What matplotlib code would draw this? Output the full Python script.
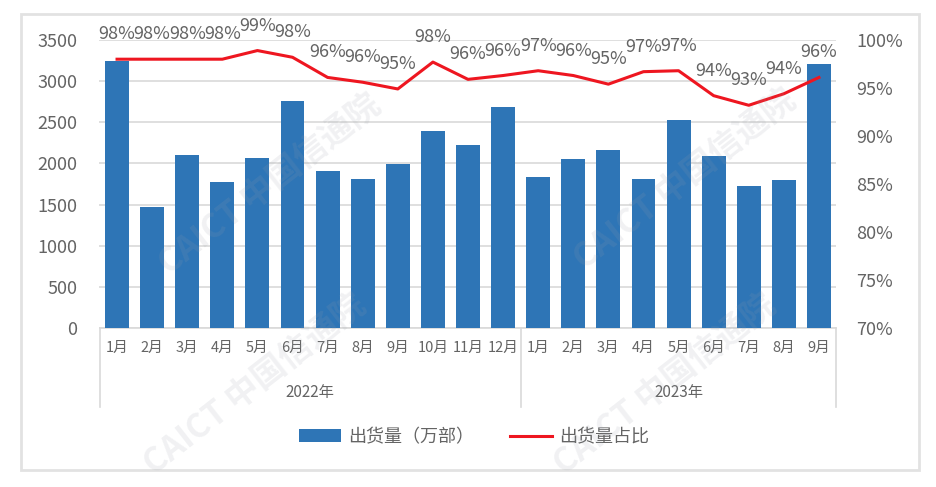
import matplotlib.pyplot as plt
from matplotlib.lines import Line2D
from matplotlib.patches import Rectangle
from matplotlib.ticker import FuncFormatter

plt.rcParams['font.family'] = ['Noto Sans CJK SC', 'DejaVu Sans']

# data
months = ['1月', '2月', '3月', '4月', '5月', '6月', '7月', '8月', '9月', '10月', '11月', '12月',
          '1月', '2月', '3月', '4月', '5月', '6月', '7月', '8月', '9月']
years = ['2022年', '2023年']
year_counts = [12, 9]
shipments = [3244, 1470, 2102, 1774, 2066, 2758, 1908, 1810, 1993, 2394, 2224, 2685,
             1835, 2053, 2163, 1810, 2527, 2090, 1725, 1798, 3208]
share = [98.0, 98.0, 98.0, 98.0, 98.9, 98.2, 96.1, 95.6, 94.9, 97.7, 95.9, 96.3,
         96.8, 96.3, 95.4, 96.7, 96.8, 94.2, 93.2, 94.4, 96.1]
share_labels = ['98%', '98%', '98%', '98%', '99%', '98%', '96%', '96%', '95%', '98%', '96%', '96%',
                '97%', '96%', '95%', '97%', '97%', '94%', '93%', '94%', '96%']

W, H = 937, 487
txt = '#646464'
blue = '#2E75B6'
red = '#EE1620'

fig = plt.figure(figsize=(W / 100, H / 100), dpi=100)

# outer frame
fig.patches.append(Rectangle((21 / W, 1 - 470 / H), 898 / W, 456 / H, transform=fig.transFigure,
                             fill=False, edgecolor='#E2E2E2', lw=2))

ax_l, ax_r, ax_t, ax_b = 99.5, 836.5, 40, 328
ax = fig.add_axes([ax_l / W, 1 - ax_b / H, (ax_r - ax_l) / W, (ax_b - ax_t) / H])
x = list(range(len(shipments)))

ax.bar(x, shipments, width=0.68, color=blue, zorder=3, label='出货量（万部）')
ax.set_ylim(0, 3500)
ax.set_yticks(range(0, 3501, 500))
ax.set_xlim(-0.5, len(x) - 0.5)
ax.grid(axis='y', color='#D9D9D9', lw=1.2, zorder=0)
for s in ['top', 'right', 'left']:
    ax.spines[s].set_visible(False)
ax.spines['bottom'].set_color('#D9D9D9')
ax.spines['bottom'].set_linewidth(1.2)
ax.tick_params(axis='y', length=0, pad=16, labelsize=13, labelcolor=txt)
ax.set_xticks(x)
ax.set_xticklabels(months)
ax.tick_params(axis='x', length=0, pad=9, labelsize=10.5, labelcolor=txt)

ax2 = ax.twinx()
ax2.plot(x, [v / 100 for v in share], color=red, lw=2.2, zorder=4, label='出货量占比')
ax2.set_ylim(0.70, 1.00)
ax2.set_yticks([0.70, 0.75, 0.80, 0.85, 0.90, 0.95, 1.00])
ax2.yaxis.set_major_formatter(FuncFormatter(lambda v, p: f'{v * 100:.0f}%'))
ax2.tick_params(axis='y', length=0, pad=14, labelsize=13, labelcolor=txt)
for s in ['top', 'right', 'left', 'bottom']:
    ax2.spines[s].set_visible(False)

for i, v in enumerate(share):
    ax2.annotate(share_labels[i], (i, v / 100), xytext=(0, 18), textcoords='offset points',
                 ha='center', va='center', fontsize=13, color=txt)

# year group level under the month labels
h = ax_b - ax_t
trans = ax.get_xaxis_transform()
start = -0.5
bounds = [start]
for n in year_counts:
    bounds.append(bounds[-1] + n)
for b in bounds:
    ax.add_line(Line2D([b, b], [0, -79 / h], transform=trans, color='#D9D9D9', lw=1.2, clip_on=False))
for j, yr in enumerate(years):
    ax.text((bounds[j] + bounds[j + 1]) / 2, -65 / h, yr, transform=trans, ha='center', va='center',
            fontsize=11, color=txt)

# watermark
for wx, wy in [(270, 185), (685, 180), (255, 385), (665, 385)]:
    fig.text(wx / W, 1 - wy / H, 'CAICT 中国信通院', rotation=38, ha='center', va='center',
             fontsize=24, fontweight='bold', color='#9AA0AA', alpha=0.14, zorder=10)

h1, l1 = ax.get_legend_handles_labels()
h2, l2 = ax2.get_legend_handles_labels()
fig.legend(h1 + h2, l1 + l2, loc='center', bbox_to_anchor=(474 / W, 1 - 437 / H), ncol=2,
           frameon=False, fontsize=13, labelcolor=txt, handlelength=2.3, handletextpad=0.4,
           columnspacing=2.0)

fig.savefig('out.png', dpi=100)
